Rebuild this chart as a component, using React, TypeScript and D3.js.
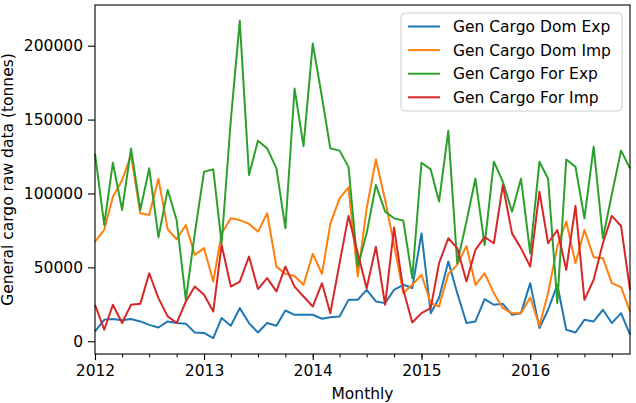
import { useEffect, useRef } from "react";
import * as d3 from "d3";

// Monthly tonnage, Jan 2012 – Dec 2016
const domExp = [
  6600, 14500, 15000, 14200, 15000, 13400, 11100, 9300, 13400, 12300, 11900, 5900,
  5600, 2100, 15700, 10500, 22400, 12300, 5900, 12300, 10500, 20800, 17900, 17900,
  17900, 15200, 16200, 16700, 28000, 28000, 34800, 26900, 25800, 34800, 38200, 36000,
  73000, 19000, 29200, 53900, 32600, 12300, 13400, 28500, 24700, 25300, 17900, 19000,
  39300, 8900, 21300, 38200, 7800, 5900, 14500, 13400, 21300, 12300, 19000, 4400,
];
const domImp = [
  67400, 75300, 97800, 109000, 126000, 86600, 85500, 110000, 75800, 69000, 78700, 58400,
  63000, 40400, 73000, 83200, 82000, 79400, 74200, 86600, 50500, 45600, 44200, 38200,
  59100, 45600, 79400, 96700, 104200, 43800, 90000, 123000, 95600, 65200, 32600, 38200,
  45000, 25800, 23500, 45600, 51700, 64500, 38200, 46000, 32600, 22400, 19000, 19000,
  29600, 10500, 32600, 64000, 81000, 52800, 75300, 56900, 56200, 39300, 36600, 20100,
];
const forExp = [
  127000, 78700, 120800, 88800, 130500, 88800, 117000, 70400, 102400, 82000, 28000, 73000,
  114700, 116300, 66300, 149700, 216800, 112500, 135700, 130500, 117000, 76500, 171000, 132000,
  201500, 165000, 130500, 129000, 118000, 50500, 73000, 105700, 87700, 83200, 81600, 42700,
  120800, 116300, 94500, 142400, 52800, 81000, 110000, 65000, 121500, 108000, 87700, 110000,
  59600, 121500, 110000, 25800, 123000, 118000, 83200, 131600, 69700, 99500, 129000, 117000,
];
const forImp = [
  24700, 7800, 24700, 12300, 24700, 25300, 46000, 29200, 16800, 12300, 26900, 37000,
  31400, 20100, 65200, 37000, 40400, 57300, 35300, 42700, 33700, 50500, 37000, 30300,
  23500, 39300, 19000, 52800, 84800, 59600, 35900, 64000, 24700, 76900, 34800, 12700,
  19000, 22400, 52800, 69700, 63000, 40400, 61800, 70400, 66300, 105700, 73000, 63000,
  50500, 101200, 66300, 75300, 48300, 91600, 28000, 41600, 66300, 84800, 78000, 34800,
];

const seriesNames = ["Gen Cargo Dom Exp", "Gen Cargo Dom Imp", "Gen Cargo For Exp", "Gen Cargo For Imp"];
const seriesValues = [domExp, domImp, forExp, forImp];
const colors = ["#1f77b4", "#ff7f0e", "#2ca02c", "#d62728"];
const months = d3.utcMonths(new Date(Date.UTC(2012, 0, 1)), new Date(Date.UTC(2017, 0, 1)));
const yTicks = [0, 50000, 100000, 150000, 200000];

const W = 636;
const H = 403;
const FONT = "DejaVu Sans";

export default function App() {
  const svgRef = useRef<SVGSVGElement>(null);

  useEffect(() => {
    if (!svgRef.current) return;
    const margin = { top: 5, right: 6, bottom: 49, left: 95 };
    const width = W - margin.left - margin.right;
    const height = H - margin.top - margin.bottom;

    d3.select(svgRef.current).selectAll("*").remove();
    const svg = d3.select(svgRef.current)
      .append("g")
      .attr("transform", `translate(${margin.left},${margin.top})`);

    const x = d3.scaleUtc()
      .domain([months[0], months[months.length - 1]])
      .range([0, width]);

    // matplotlib-style autoscale: 5% padding around the data
    const all = seriesValues.flat();
    const lo = d3.min(all) as number;
    const hi = d3.max(all) as number;
    const pad = (hi - lo) * 0.05;
    const y = d3.scaleLinear().domain([lo - pad, hi + pad]).range([height, 0]);

    const line = d3.line<number>()
      .x((_, i) => x(months[i]))
      .y((d) => y(d));

    const plot = svg.append("g");
    seriesValues.forEach((vals, s) => {
      plot.append("path")
        .datum(vals)
        .attr("fill", "none")
        .attr("stroke", colors[s])
        .attr("stroke-width", 2)
        .attr("stroke-linejoin", "round")
        .attr("d", line);
    });

    // Frame
    svg.append("rect")
      .attr("width", width)
      .attr("height", height)
      .attr("fill", "none")
      .attr("stroke", "#000")
      .attr("stroke-width", 1.1);

    // X axis: yearly majors, quarterly minors
    const quarters = d3.utcMonths(months[0], months[months.length - 1], 3);
    svg.append("g")
      .attr("transform", `translate(0,${height})`)
      .call(d3.axisBottom(x).tickValues(quarters).tickSize(3.5).tickFormat(() => ""))
      .call((g) => g.select(".domain").remove())
      .call((g) => g.selectAll(".tick line").attr("stroke", "#000").attr("stroke-width", 1));

    const years = d3.utcYears(months[0], months[months.length - 1]);
    svg.append("g")
      .attr("transform", `translate(0,${height})`)
      .call(d3.axisBottom(x).tickValues([months[0], ...years.slice(1)]).tickSize(6).tickPadding(5).tickFormat(d3.utcFormat("%Y") as any))
      .call((g) => g.select(".domain").remove())
      .call((g) => g.selectAll(".tick line").attr("stroke", "#000").attr("stroke-width", 1.1))
      .call((g) => g.selectAll(".tick text").attr("fill", "#000").attr("font-size", "15.5px").attr("font-family", FONT));

    svg.append("g")
      .call(d3.axisLeft(y).tickValues(yTicks).tickSize(7).tickPadding(5).tickFormat(d3.format("d") as any))
      .call((g) => g.select(".domain").remove())
      .call((g) => g.selectAll(".tick line").attr("stroke", "#000").attr("stroke-width", 1.1))
      .call((g) => g.selectAll(".tick text").attr("fill", "#000").attr("font-size", "15.5px").attr("font-family", FONT));

    // Axis labels
    svg.append("text")
      .attr("x", width / 2)
      .attr("y", height + 45)
      .attr("text-anchor", "middle")
      .attr("font-size", "15.5px")
      .attr("font-family", FONT)
      .text("Monthly");

    svg.append("text")
      .attr("transform", `translate(${-margin.left + 13},${height / 2}) rotate(-90)`)
      .attr("text-anchor", "middle")
      .attr("font-size", "15.5px")
      .attr("font-family", FONT)
      .text("General cargo raw data (tonnes)");

    // Legend
    const lg = svg.append("g").attr("transform", `translate(${401 - margin.left},${13 - margin.top})`);
    lg.append("rect")
      .attr("width", 221)
      .attr("height", 98)
      .attr("rx", 4)
      .attr("fill", "#fff")
      .attr("fill-opacity", 0.8)
      .attr("stroke", "#d0d0d0");
    seriesNames.forEach((name, i) => {
      const ly = 13.5 + i * 23.6;
      lg.append("line")
        .attr("x1", 7)
        .attr("x2", 39)
        .attr("y1", ly)
        .attr("y2", ly)
        .attr("stroke", colors[i])
        .attr("stroke-width", 2);
      lg.append("text")
        .attr("x", 52)
        .attr("y", ly)
        .attr("dy", "0.35em")
        .attr("font-size", "15.5px")
        .attr("font-family", FONT)
        .attr("fill", "#000")
        .text(name);
    });
  }, []);

  return (
    <svg
      ref={svgRef}
      width={W}
      height={H}
      style={{ position: "absolute", left: 0, top: 0, background: "#fff" }}
    />
  );
}
